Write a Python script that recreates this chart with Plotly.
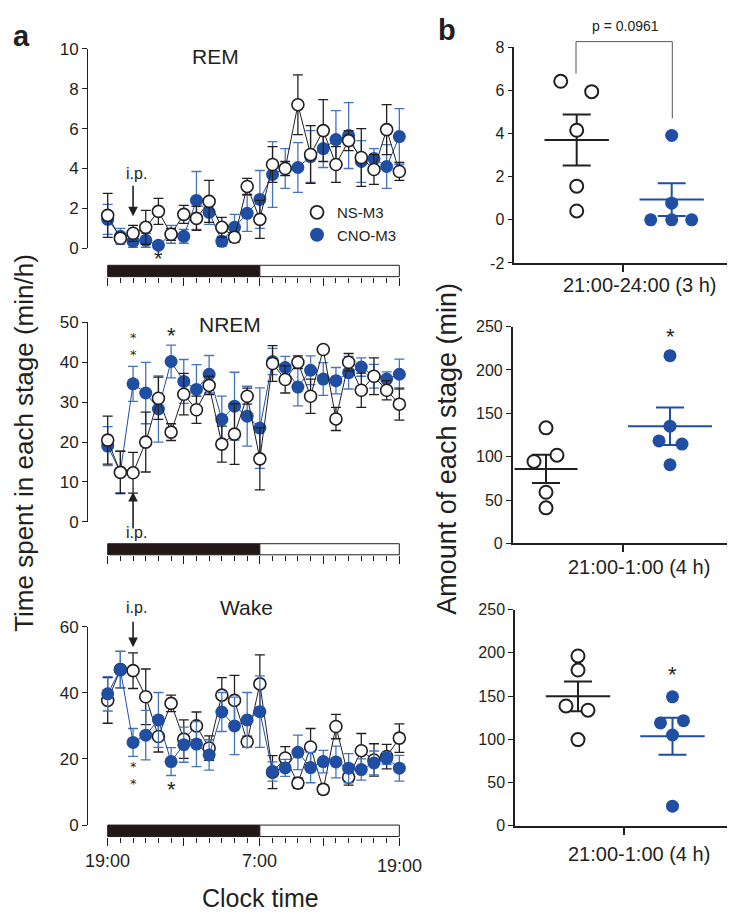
import numpy as np
import plotly.graph_objects as go

W, H = 729, 920
FONT = "Liberation Sans, Arial, sans-serif"
INK = "#231f20"
BLUE = "#1f4ea3"
BLUE_ERR = "#4473c0"

# ---------------- data: panel a (hourly means, SEM) ----------------
hour_idx = list(range(24))             # 24 hourly bins, 19:00 -> 19:00
time_tick_idx = [0, 12, 23]
time_tick_lab = ["19:00", "7:00", "19:00"]

rem_ns = [1.65, 0.50, 0.75, 1.05, 1.85, 0.70, 1.70, 1.50, 2.35, 1.05, 0.55, 3.10,
          1.45, 4.20, 4.00, 7.20, 4.70, 5.90, 4.20, 5.40, 4.55, 3.95, 5.95, 3.85]
rem_ns_err = [1.10, 0.20, 0.40, 0.85, 0.65, 0.30, 0.45, 0.60, 1.05, 0.50, 0.25, 0.40,
              0.95, 0.90, 0.35, 1.50, 1.45, 1.55, 0.90, 0.50, 1.45, 0.75, 1.25, 0.45]
rem_cno = [1.45, 0.60, 0.35, 0.40, 0.15, 0.70, 0.60, 2.40, 1.80, 0.35, 1.05, 1.75,
           2.45, 3.70, 4.00, 4.05, 4.60, 5.00, 5.45, 5.65, 4.35, 4.50, 4.10, 5.60]
rem_cno_err = [0.75, 0.40, 0.30, 0.35, 0.10, 0.45, 0.35, 1.45, 0.60, 0.25, 0.65, 0.90,
               1.45, 1.65, 1.00, 1.25, 1.30, 0.95, 1.45, 1.65, 1.05, 0.50, 1.10, 1.40]

nrem_ns = [20.5, 12.4, 12.3, 20.0, 31.0, 22.5, 32.0, 28.1, 34.2, 19.5, 22.0, 31.5,
           15.8, 39.7, 35.7, 40.0, 31.5, 43.2, 25.8, 40.0, 33.0, 36.5, 33.0, 29.5]
nrem_ns_err = [6.0, 5.3, 5.1, 7.5, 5.3, 2.1, 5.2, 3.4, 2.3, 4.5, 7.6, 2.0,
               7.8, 4.5, 3.4, 1.6, 4.3, 0.5, 2.9, 2.2, 4.3, 4.6, 2.4, 4.0]
nrem_cno = [19.0, 12.5, 34.6, 32.3, 28.3, 40.2, 35.2, 33.2, 37.0, 25.7, 29.0, 26.5,
            23.5, 40.2, 38.7, 33.8, 38.0, 35.8, 35.4, 37.4, 38.8, 36.5, 35.8, 37.0]
nrem_cno_err = [4.9, 5.2, 4.4, 7.7, 8.3, 4.1, 5.5, 6.2, 4.7, 5.8, 8.5, 7.5,
                10.1, 3.3, 2.8, 4.7, 3.6, 4.1, 3.3, 4.1, 2.3, 3.0, 1.8, 3.8]

wake_ns = [37.7, 47.0, 46.7, 38.8, 26.8, 36.8, 26.0, 30.0, 23.3, 39.3, 37.7, 25.2,
           42.7, 16.0, 20.3, 12.7, 23.6, 10.8, 29.8, 14.5, 22.5, 19.7, 20.7, 26.3]
wake_ns_err = [6.9, 5.5, 5.4, 8.4, 4.7, 2.5, 5.8, 4.2, 3.7, 5.3, 7.6, 1.7,
               8.8, 5.0, 3.4, 1.6, 5.6, 1.4, 3.7, 2.4, 5.2, 4.9, 3.7, 4.3]
wake_cno = [39.7, 47.0, 25.0, 27.2, 31.8, 19.2, 24.3, 24.5, 21.2, 34.2, 30.0, 31.8,
            34.3, 16.2, 17.3, 22.0, 17.4, 19.2, 19.1, 17.2, 16.8, 18.8, 20.2, 17.2]
wake_cno_err = [5.2, 5.5, 4.2, 7.5, 8.3, 4.2, 5.3, 6.8, 4.6, 5.9, 8.7, 8.3,
                10.8, 2.9, 2.6, 5.2, 4.6, 3.4, 4.8, 4.4, 3.2, 3.6, 1.8, 3.9]

# ---------------- data: panel b (individual animals) ----------------
b_rem_ns = [6.42, 5.94, 4.15, 1.56, 0.41]
b_rem_cno = [3.91, 0.77, 0.0, 0.0, 0.0]
b_nrem_ns = [133.3, 94.5, 101.7, 59.0, 41.0]
b_nrem_cno = [216.5, 135.2, 118.2, 114.5, 90.7]
b_wake_ns = [196.4, 180.1, 138.6, 133.7, 99.7]
b_wake_cno = [149.2, 119.0, 121.6, 105.0, 22.7]
b_labels = ["21:00-24:00 (3 h)", "21:00-1:00 (4 h)", "21:00-1:00 (4 h)"]
p_text = "p = 0.0961"

# ---------------- helpers ----------------
def fx(p):
    return p / W

def fy(p):
    return 1 - p / H

fig = go.Figure()
layout = dict(width=W, height=H, margin=dict(l=0, r=0, t=0, b=0),
              plot_bgcolor="white", paper_bgcolor="white",
              font=dict(family=FONT, color=INK, size=15),
              showlegend=True)
annotations = []
shapes = []

def note(text, x, y, xref="paper", yref="paper", size=15, family=FONT, **kw):
    d = dict(text=text, x=x, y=y, xref=xref, yref=yref, showarrow=False,
             xanchor="center", yanchor="middle", font=dict(size=size, color=INK, family=family))
    d.update(kw)
    annotations.append(d)

# ---------------- panel a ----------------
AX_L, AX_R = 88.3, 408.0
X0PX, DXPX = 107.7, 12.68
xr = [(AX_L - X0PX) / DXPX, (AX_R - X0PX) / DXPX]

panels_a = [
    dict(title="REM", ns=rem_ns, nse=rem_ns_err, cno=rem_cno, cnoe=rem_cno_err,
         y0=244.3, y1=40.7, ymax=10, ticks=[0, 2, 4, 6, 8, 10],
         bar=(261.7, 273.3), ns_top=True, tpos=(215, 48)),
    dict(title="NREM", ns=nrem_ns, nse=nrem_ns_err, cno=nrem_cno, cnoe=nrem_cno_err,
         y0=523.7, y1=320.0, ymax=50, ticks=[0, 10, 20, 30, 40, 50],
         bar=(546.0, 557.3), ns_top=True, tpos=(230, 322)),
    dict(title="Wake", ns=wake_ns, nse=wake_ns_err, cno=wake_cno, cnoe=wake_cno_err,
         y0=833.3, y1=630.7, ymax=60, ticks=[0, 20, 40, 60],
         bar=(833.3, 845.0), ns_top=False, tpos=(247, 611)),
]

for k, p in enumerate(panels_a, start=1):
    xa, ya = f"x{k}", f"y{k}"
    ns_tr = go.Scatter(
        x=hour_idx, y=p["ns"], mode="lines+markers", xaxis=xa, yaxis=ya,
        showlegend=False, cliponaxis=False,
        line=dict(color=INK, width=1),
        marker=dict(symbol="circle", size=12, color="white", line=dict(color=INK, width=1.6)),
        error_y=dict(type="data", array=p["nse"], color=INK, thickness=1.3, width=5))
    cno_tr = go.Scatter(
        x=hour_idx, y=p["cno"], mode="lines+markers", xaxis=xa, yaxis=ya,
        showlegend=False, cliponaxis=False,
        line=dict(color=BLUE, width=1),
        marker=dict(symbol="circle", size=13, color=BLUE, line=dict(color=BLUE, width=0)),
        error_y=dict(type="data", array=p["cnoe"], color=BLUE_ERR, thickness=1.3, width=5))
    if p["ns_top"]:
        fig.add_trace(cno_tr); fig.add_trace(ns_tr)
    else:
        fig.add_trace(ns_tr); fig.add_trace(cno_tr)

    sfx = "" if k == 1 else str(k)
    layout[f"xaxis{sfx}"] = dict(
        domain=[fx(AX_L), fx(AX_R)], range=xr, anchor="free", position=fy(p["bar"][1]),
        showline=False, showgrid=False, zeroline=False, showticklabels=False,
        tickmode="array", tickvals=[0, 6, 12, 17, 23], ticks="outside", ticklen=8,
        tickwidth=1.2, tickcolor=INK,
        minor=dict(tickmode="array", tickvals=hour_idx, ticks="outside", ticklen=5,
                   tickwidth=1, tickcolor=INK))
    layout[f"yaxis{sfx}"] = dict(
        domain=[fy(p["y0"]), fy(p["y1"])], range=[0, p["ymax"]], anchor=xa,
        showline=True, linecolor=INK, linewidth=1.3, showgrid=False, zeroline=False,
        tickmode="array", tickvals=p["ticks"], ticks="outside", ticklen=5,
        tickwidth=1.2, tickcolor=INK, tickfont=dict(size=17, color=INK))
    # light/dark bar
    bt, bb = p["bar"]
    shapes.append(dict(type="rect", xref=xa, yref="paper", x0=time_tick_idx[0], x1=time_tick_idx[1],
                       y0=fy(bb), y1=fy(bt), fillcolor="#231815", line=dict(color=INK, width=1)))
    shapes.append(dict(type="rect", xref=xa, yref="paper", x0=time_tick_idx[1], x1=time_tick_idx[2],
                       y0=fy(bb), y1=fy(bt), fillcolor="white", line=dict(color=INK, width=1)))
    note(p["title"], fx(p["tpos"][0]), fy(p["tpos"][1]), size=21)

# legend entries (markers only)
fig.add_trace(go.Scatter(x=[None], y=[None], mode="markers", name="NS-M3", xaxis="x1", yaxis="y1",
                         marker=dict(symbol="circle", size=13, color="white", line=dict(color=INK, width=1.8))))
fig.add_trace(go.Scatter(x=[None], y=[None], mode="markers", name="CNO-M3", xaxis="x1", yaxis="y1",
                         marker=dict(symbol="circle", size=14, color=BLUE)))
layout["legend"] = dict(x=fx(297), y=fy(191), xanchor="left", yanchor="top",
                        bgcolor="rgba(0,0,0,0)", font=dict(size=15, color=INK),
                        tracegroupgap=0, itemwidth=30)

# time labels under bottom panel
for xi, lab, ypx in zip(time_tick_idx, time_tick_lab, [870, 870, 875]):
    note(lab, xi, fy(ypx), xref="x3", size=18)

# i.p. markers
note("i.p.", 2.3, fy(168), xref="x1", size=16)
note("i.p.", 2.3, fy(535), xref="x2", size=16)
note("i.p.", 2.3, fy(611), xref="x3", size=16)
for xa, ya, yv, ay in [("x1", "y1", 1.6, -32), ("x2", "y2", 7.5, 38), ("x3", "y3", 53.8, -27)]:
    annotations.append(dict(text="", x=2, y=yv, xref=xa, yref=ya, showarrow=True, ax=0, ay=ay,
                            arrowhead=2, arrowsize=1.2, arrowwidth=1.6, arrowcolor=INK))

# significance stars (panel a): (axis, hour index, vertical pixel, text, size, font)
STACK_FONT = "DejaVu Sans"
stars_a = [("x1", 4, 254.5, "*", 22, FONT), ("x2", 2, 344.5, "*<br>*", 13, STACK_FONT),
           ("x2", 5, 333, "*", 22, FONT),
           ("x3", 2, 781.8, "*<br>*", 13, STACK_FONT), ("x3", 5, 796.5, "*", 22, FONT)]
for xa, xv, ypx, txt, sz, fam in stars_a:
    note(txt, xv, fy(ypx), xref=xa, size=sz, family=fam)

# axis titles panel a
note("Clock time", fx(260), fy(908), size=25)
note("Time spent in each stage (min/h)", fx(24), fy(443), size=26, textangle=-90)
note("<b>a</b>", fx(21), fy(28), size=29)

# ---------------- panel b ----------------
panels_b = [
    dict(ns=b_rem_ns, cno=b_rem_cno, ybot=259.3, ytop=39.0, yr=[-2, 8], ticks=[-2, 0, 2, 4, 6, 8],
         xl=514.3, xr=727, ns_px=576.7, cno_px=671.7, tick_px=623.3,
         ns_jit=[-16, 15, 0, 0, 0], cno_jit=[0, 0, -21, 0, 20], mw=(46, 46), lab_y=282, star=None),
    dict(ns=b_nrem_ns, cno=b_nrem_cno, ybot=545.7, ytop=324.3, yr=[0, 250], ticks=[0, 50, 100, 150, 200, 250],
         xl=512.7, xr=727, ns_px=546.0, cno_px=670.0, tick_px=623.3,
         ns_jit=[0, -12, 11, 0, 0], cno_jit=[0, 0, -11, 12, 0], mw=(45, 60), lab_y=570, star=334.5),
    dict(ns=b_wake_ns, cno=b_wake_cno, ybot=834.0, ytop=613.3, yr=[0, 250], ticks=[0, 50, 100, 150, 200, 250],
         xl=515.0, xr=727, ns_px=578.0, cno_px=672.5, tick_px=624.3,
         ns_jit=[0, 0, -12, 10, 0], cno_jit=[0, -12, 11, 0, 0], mw=(46, 46), lab_y=863, star=679.5),
]

for j, p in enumerate(panels_b):
    k = j + 4
    xa, ya = f"x{k}", f"y{k}"
    u = p["cno_px"] - p["ns_px"]
    rng = [(p["xl"] - p["ns_px"]) / u, (p["xr"] - p["ns_px"]) / u]
    tick = (p["tick_px"] - p["ns_px"]) / u
    for gi, (vals, jit, col, mw) in enumerate([(p["ns"], p["ns_jit"], INK, p["mw"][0]),
                                               (p["cno"], p["cno_jit"], BLUE, p["mw"][1])]):
        vals = np.array(vals)
        mean = vals.mean()
        sem = vals.std(ddof=1) / np.sqrt(len(vals))
        fig.add_trace(go.Scatter(
            x=[gi], y=[mean], mode="markers", xaxis=xa, yaxis=ya, showlegend=False, cliponaxis=False,
            marker=dict(symbol="line-ew", size=mw, color=col, line=dict(color=col, width=2)),
            error_y=dict(type="data", array=[sem], color=col, thickness=2, width=14)))
        xs = [gi + d / u for d in jit]
        if gi == 0:
            mk = dict(symbol="circle", size=13, color="white", line=dict(color=INK, width=2))
        else:
            mk = dict(symbol="circle", size=13, color=BLUE, line=dict(width=0))
        fig.add_trace(go.Scatter(x=xs, y=list(vals), mode="markers", xaxis=xa, yaxis=ya,
                                 showlegend=False, cliponaxis=False, marker=mk))
    layout[f"xaxis{k}"] = dict(
        domain=[fx(p["xl"]), fx(p["xr"])], range=rng, anchor=ya,
        showline=True, linecolor=INK, linewidth=1.5, showgrid=False, zeroline=False,
        showticklabels=False, tickmode="array", tickvals=[tick], ticks="outside",
        ticklen=7, tickwidth=1.5, tickcolor=INK)
    layout[f"yaxis{k}"] = dict(
        domain=[fy(p["ybot"]), fy(p["ytop"])], range=p["yr"], anchor=xa,
        showline=True, linecolor=INK, linewidth=1.5, showgrid=False, zeroline=False,
        tickmode="array", tickvals=p["ticks"], ticktext=[str(t) for t in p["ticks"]],
        ticks="outside", ticklen=5, tickwidth=1.3, tickcolor=INK,
        tickfont=dict(size=16, color=INK))
    note(b_labels[j], fx(639), fy(p["lab_y"]), size=20)
    if p["star"] is not None:
        note("*", 1, fy(p["star"]), xref=xa, size=22)

# p-value bracket on REM panel b (pixel geometry of the bracket)
bx0, bx1, btop, bl, br = 576.0, 672.3, 33.3, 66.0, 111.7
shapes.append(dict(type="path", xref="paper", yref="paper",
                   path=f"M {fx(bx0)},{fy(bl)} L {fx(bx0)},{fy(btop)} L {fx(bx1)},{fy(btop)} L {fx(bx1)},{fy(br)}",
                   line=dict(color="#555555", width=1)))
note(p_text, fx(625), fy(17.5), size=14)

note("Amount of each stage (min)", fx(447), fy(449), size=27, textangle=-90)
note("<b>b</b>", fx(447), fy(21), size=29)

layout["annotations"] = annotations
layout["shapes"] = shapes
fig.update_layout(**layout)
fig.write_html("out.html")
